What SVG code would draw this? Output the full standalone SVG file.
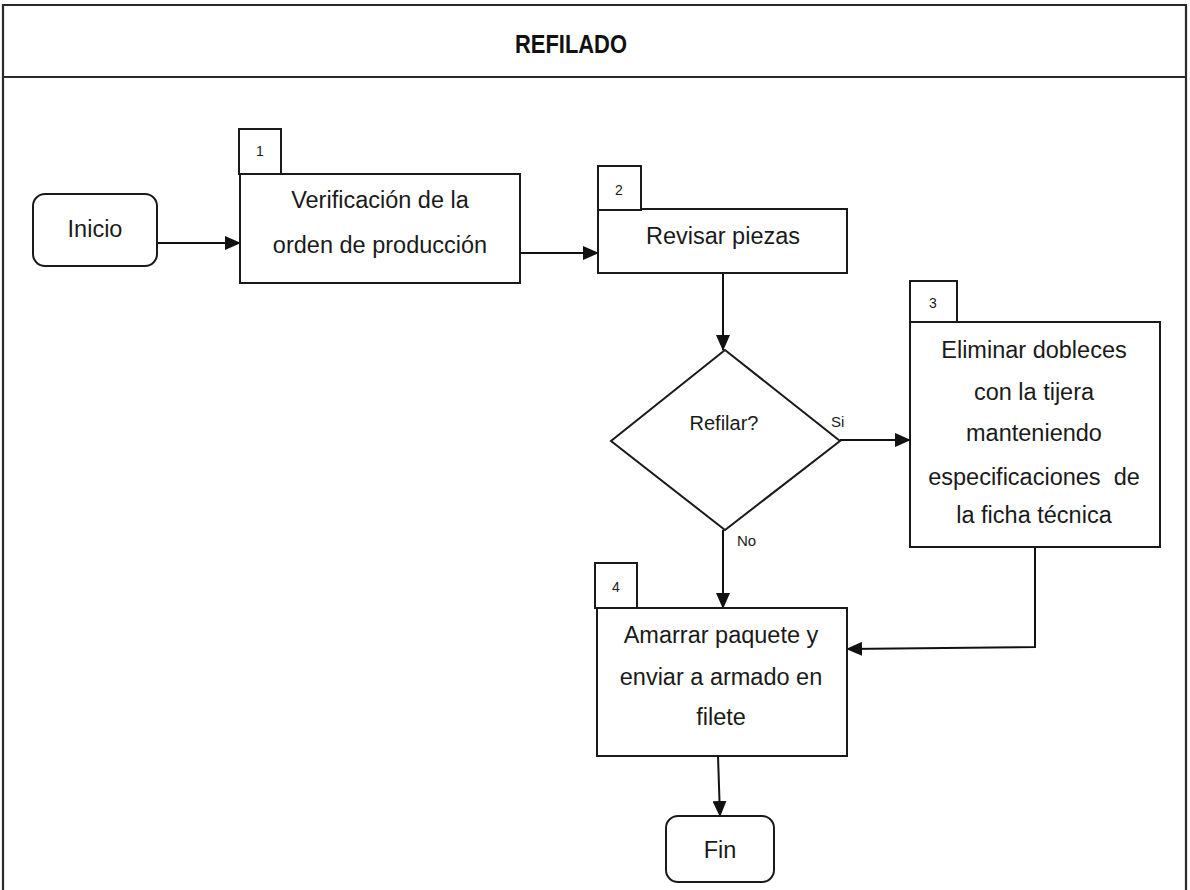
<svg xmlns="http://www.w3.org/2000/svg" width="1190" height="890" viewBox="0 0 1190 890">
  <defs>
    <marker id="arrow" markerUnits="userSpaceOnUse" markerWidth="16" markerHeight="14" refX="15" refY="7" orient="auto">
      <path d="M0,0 L16,7 L0,14 Z" fill="#111"/>
    </marker>
    <style>
      .frame { fill: none; stroke: #2a2a2a; stroke-width: 2.2; }
      .box { fill: #fff; stroke: #1a1a1a; stroke-width: 2; }
      .tag { fill: #fff; stroke: #1a1a1a; stroke-width: 2; }
      .conn { fill: none; stroke: #111; stroke-width: 2; }
      .t { font-family: "Liberation Sans", Arial, sans-serif; font-size: 23.5px; fill: #1a1a1a; text-anchor: middle; }
      .num { font-family: "Liberation Sans", Arial, sans-serif; font-size: 14px; fill: #1a1a1a; text-anchor: middle; }
      .lbl { font-family: "Liberation Sans", Arial, sans-serif; font-size: 15px; fill: #1a1a1a; }
      .title { font-family: "Liberation Sans", Arial, sans-serif; font-size: 25px; font-weight: bold; fill: #111; text-anchor: middle; }
    </style>
  </defs>

  <rect width="1190" height="890" fill="#fff"/>

  <!-- page frame and header band -->
  <g id="frame">
    <polyline class="frame" points="3,890 3,5 1186,5 1186,890"/>
    <line class="frame" x1="3" y1="77" x2="1186" y2="77"/>
    <text class="title" x="571" y="53" textLength="112" lengthAdjust="spacingAndGlyphs">REFILADO</text>
  </g>

  <!-- connectors -->
  <g id="connectors">
    <line class="conn" x1="157" y1="243" x2="240" y2="243" marker-end="url(#arrow)"/>
    <line class="conn" x1="520" y1="253" x2="598" y2="253" marker-end="url(#arrow)"/>
    <line class="conn" x1="723" y1="273" x2="723" y2="350" marker-end="url(#arrow)"/>
    <line class="conn" x1="840" y1="440" x2="910" y2="440" marker-end="url(#arrow)"/>
    <line class="conn" x1="723" y1="530" x2="723" y2="608" marker-end="url(#arrow)"/>
    <polyline class="conn" points="1035,547 1035,647 847,649" marker-end="url(#arrow)"/>
    <line class="conn" x1="718" y1="756" x2="720" y2="816" marker-end="url(#arrow)"/>
    <text class="lbl" x="831" y="427">Si</text>
    <text class="lbl" x="737" y="546">No</text>
  </g>

  <g id="inicio">
    <rect class="box" x="33" y="194" width="124" height="72" rx="12" ry="12"/>
    <text class="t" x="95" y="237">Inicio</text>
  </g>

  <g id="step1">
    <rect class="box" x="240" y="174" width="280" height="109"/>
    <rect class="tag" x="239" y="129" width="42" height="45"/>
    <text class="num" x="260" y="156">1</text>
    <text class="t" x="380" y="208">Verificación de la</text>
    <text class="t" x="380" y="253">orden de producción</text>
  </g>

  <g id="step2">
    <rect class="box" x="598" y="209" width="249" height="64"/>
    <rect class="tag" x="598" y="166" width="43" height="44"/>
    <text class="num" x="619" y="195">2</text>
    <text class="t" x="723" y="244">Revisar piezas</text>
  </g>

  <g id="decision">
    <polygon class="box" points="725,350 840,441 725,530 611,441"/>
    <text class="t" x="724" y="430" style="font-size:20px">Refilar?</text>
  </g>

  <g id="step3">
    <rect class="box" x="910" y="322" width="250" height="225"/>
    <rect class="tag" x="910" y="281" width="47" height="41"/>
    <text class="num" x="933" y="308">3</text>
    <text class="t" x="1034" y="358">Eliminar dobleces</text>
    <text class="t" x="1034" y="400">con la tijera</text>
    <text class="t" x="1034" y="441">manteniendo</text>
    <text class="t" x="1034" y="485" xml:space="preserve">especificaciones  de</text>
    <text class="t" x="1034" y="523">la ficha técnica</text>
  </g>

  <g id="step4">
    <rect class="box" x="597" y="608" width="250" height="148"/>
    <rect class="tag" x="595" y="563" width="42" height="45"/>
    <text class="num" x="616" y="592">4</text>
    <text class="t" x="721" y="643">Amarrar paquete y</text>
    <text class="t" x="721" y="685">enviar a armado en</text>
    <text class="t" x="721" y="725">filete</text>
  </g>

  <g id="fin">
    <rect class="box" x="666" y="816" width="108" height="66" rx="12" ry="12"/>
    <text class="t" x="720" y="858">Fin</text>
  </g>
</svg>
